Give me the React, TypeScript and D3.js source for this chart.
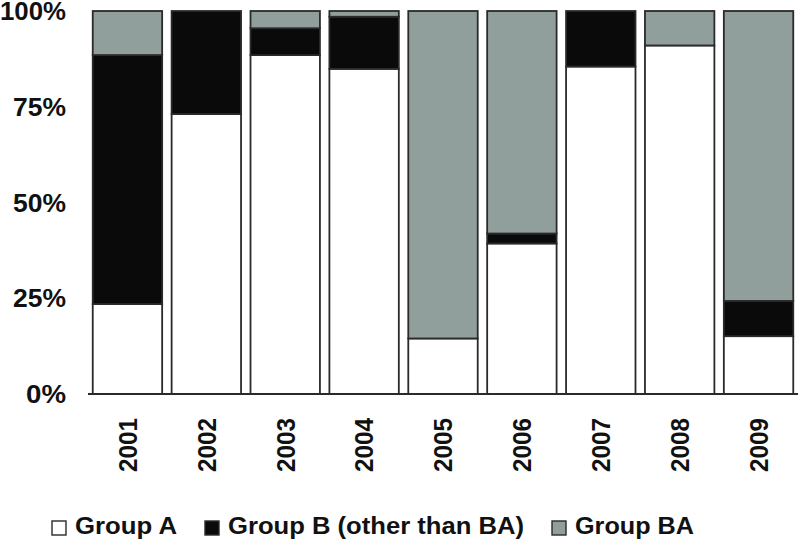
import React, { useEffect, useRef } from 'react';
import * as d3 from 'd3';

const years = ['2001', '2002', '2003', '2004', '2005', '2006', '2007', '2008', '2009'];
const groupA = [23.5, 73.1, 88.5, 84.9, 14.5, 39.3, 85.5, 91.0, 15.1];
const groupB = [65.0, 26.9, 7.0, 13.6, 0, 2.6, 14.5, 0, 9.2];
const groupBA = [11.5, 0, 4.5, 1.5, 85.5, 58.1, 0, 9.0, 75.7];
const yTicks = [0, 25, 50, 75, 100];

const seriesNames = ['Group A', 'Group B (other than BA)', 'Group BA'];
const seriesColors = ['#ffffff', '#0a0a0a', '#919f9c'];

const App = () => {
  const svgRef = useRef<SVGSVGElement>(null);

  useEffect(() => {
    const width = 800;
    const height = 542;
    const margin = { top: 11, right: 2, bottom: 148, left: 88 };

    const svg = d3.select(svgRef.current)
      .attr('width', width)
      .attr('height', height);
    svg.selectAll('*').remove();

    const x = d3.scaleBand()
      .domain(years)
      .range([margin.left, width - margin.right])
      .paddingInner(0.12)
      .paddingOuter(0.06);

    const y = d3.scaleLinear()
      .domain([0, 100])
      .range([height - margin.bottom, margin.top]);

    const rows = years.map((yr, i) => ({ year: yr, a: groupA[i], b: groupB[i], ba: groupBA[i] }));
    const stacked = d3.stack<any>().keys(['a', 'b', 'ba'])(rows);

    const layers = svg.selectAll('.layer')
      .data(stacked)
      .enter().append('g')
      .attr('fill', (d, i) => seriesColors[i]);

    layers.selectAll('rect')
      .data(d => d.filter(p => p[1] - p[0] > 0))
      .enter().append('rect')
      .attr('x', d => x(d.data.year)!)
      .attr('width', x.bandwidth())
      .attr('y', d => y(d[1]))
      .attr('height', d => y(d[0]) - y(d[1]))
      .attr('stroke', '#2a2a2a')
      .attr('stroke-width', 1.8);

    // baseline
    svg.append('line')
      .attr('x1', margin.left)
      .attr('x2', width - margin.right)
      .attr('y1', y(0))
      .attr('y2', y(0))
      .attr('stroke', '#2a2a2a')
      .attr('stroke-width', 2);

    const font = 'Liberation Sans, Arial, sans-serif';

    // y tick labels
    svg.selectAll('.ytick')
      .data(yTicks)
      .enter().append('text')
      .attr('x', 66)
      .attr('y', d => y(d))
      .attr('dy', '0.36em')
      .attr('text-anchor', 'end')
      .attr('textLength', d => (d === 100 ? 66 : d === 0 ? 40 : 53))
      .attr('lengthAdjust', 'spacingAndGlyphs')
      .style('font-family', font)
      .style('font-weight', 'bold')
      .style('font-size', '25px')
      .attr('fill', '#111')
      .text(d => `${d}%`);

    // x labels
    svg.selectAll('.xtick')
      .data(years)
      .enter().append('text')
      .attr('transform', d => `translate(${x(d)! + x.bandwidth() / 2},418) rotate(-90)`)
      .attr('dy', '0.36em')
      .attr('text-anchor', 'end')
      .attr('textLength', 54)
      .attr('lengthAdjust', 'spacingAndGlyphs')
      .style('font-family', font)
      .style('font-weight', 'bold')
      .style('font-size', '26px')
      .attr('fill', '#111')
      .text(d => d);

    // legend
    const legendX = [52, 205, 552];
    const legendLen = [102, 296, 119];
    const legend = svg.selectAll('.legend')
      .data(seriesNames)
      .enter().append('g')
      .attr('transform', (d, i) => `translate(${legendX[i]},527)`);

    legend.append('rect')
      .attr('x', 0)
      .attr('y', -6)
      .attr('width', 14)
      .attr('height', 14)
      .attr('fill', (d, i) => seriesColors[i])
      .attr('stroke', '#2a2a2a')
      .attr('stroke-width', 1.4);

    legend.append('text')
      .attr('x', 23)
      .attr('y', 7)
      .attr('textLength', (d, i) => legendLen[i])
      .attr('lengthAdjust', 'spacingAndGlyphs')
      .style('font-family', font)
      .style('font-weight', 'bold')
      .style('font-size', '23px')
      .attr('fill', '#111')
      .text(d => d);
  }, []);

  return (
    <svg ref={svgRef} style={{ position: 'absolute', left: 0, top: 0 }}></svg>
  );
};

export default App;
